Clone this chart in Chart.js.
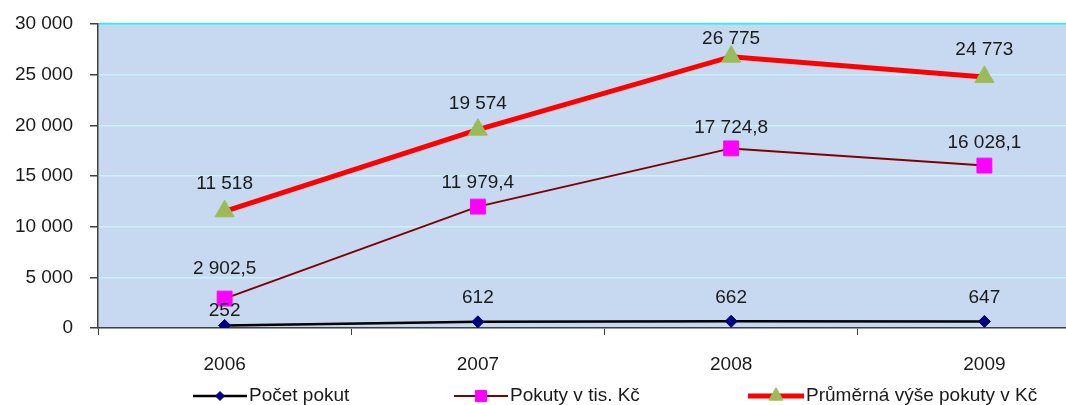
<!DOCTYPE html>
<html lang="cs">
<head>
<meta charset="UTF-8">
<title>Pokuty 2006–2009</title>
<script src="https://cdn.jsdelivr.net/npm/chart.js"></script>
<style>
    html, body { margin: 0; padding: 0; background: #fff; overflow: hidden; }
    #wrap { width: 1123px; height: 405px; }
</style>
</head>
<body>
<div id="wrap"><canvas id="chart" width="1123" height="405"></canvas></div>
<script>
    // --- data ---
    const years = ['2006', '2007', '2008', '2009'];
    const pocetPokut = [252, 612, 662, 647];
    const pokutyTisKc = [2902.5, 11979.4, 17724.8, 16028.1];
    const prumernaVyse = [11518, 19574, 26775, 24773];
    const seriesNames = ['Počet pokut', 'Pokuty v tis. Kč', 'Průměrná výše pokuty v Kč'];

    const FONT = '"Liberation Sans", Arial, sans-serif';

    // cz number format: space as thousands separator, comma for decimals
    function fmt(v, dec) {
        const s = v.toFixed(dec).split('.');
        const int = s[0].replace(/\B(?=(\d{3})+(?!\d))/g, ' ');
        return s[1] ? int + ',' + s[1] : int;
    }

    // plot area background
    const plotBg = {
        id: 'plotBg',
        beforeDraw(chart) {
            const { ctx, chartArea: a } = chart;
            ctx.save();
            ctx.fillStyle = '#c6d9f0';
            ctx.fillRect(a.left, a.top, a.right - a.left, a.bottom - a.top);
            ctx.restore();
        }
    };

    // value labels above points
    const valueLabels = {
        id: 'valueLabels',
        afterDatasetsDraw(chart, args, opts) {
            const ctx = chart.ctx;
            ctx.save();
            ctx.font = '19px ' + FONT;
            ctx.fillStyle = '#1a1a1a';
            ctx.textAlign = 'center';
            ctx.textBaseline = 'middle';
            chart.data.datasets.forEach((ds, i) => {
                const meta = chart.getDatasetMeta(i);
                meta.data.forEach((pt, j) => {
                    const off = opts.offsets[i][j];
                    ctx.fillText(fmt(ds.data[j], opts.decimals[i]), pt.x, pt.y - off);
                });
            });
            ctx.restore();
        }
    };

    // legend: line + marker + text, drawn at bottom
    const bottomLegend = {
        id: 'bottomLegend',
        afterDraw(chart, args, opts) {
            const ctx = chart.ctx;
            const y = 396;
            chart.data.datasets.forEach((ds, i) => {
                const x0 = opts.starts[i], x1 = x0 + opts.lineLen[i];
                ctx.save();
                ctx.strokeStyle = ds.borderColor;
                ctx.lineWidth = ds.borderWidth;
                ctx.beginPath();
                ctx.moveTo(x0, y);
                ctx.lineTo(x1, y);
                ctx.stroke();
                ctx.fillStyle = ds.pointBackgroundColor;
                ctx.strokeStyle = ds.pointBorderColor;
                ctx.lineWidth = 1;
                Chart.helpers.drawPoint(ctx, {
                    pointStyle: ds.pointStyle,
                    radius: ds.pointRadius * 0.75,
                    borderWidth: 1
                }, (x0 + x1) / 2, y);
                ctx.font = '19px ' + FONT;
                ctx.fillStyle = '#1a1a1a';
                ctx.textAlign = 'left';
                ctx.textBaseline = 'middle';
                ctx.fillText(seriesNames[i], x1 + 2, y);
                ctx.restore();
            });
        }
    };

    new Chart(document.getElementById('chart'), {
        type: 'line',
        data: {
            labels: years,
            datasets: [
                {
                    label: seriesNames[0], data: pocetPokut,
                    borderColor: '#000000', borderWidth: 2.5,
                    pointStyle: 'rectRot', pointRadius: 6,
                    pointBackgroundColor: '#000080', pointBorderColor: '#000080', pointBorderWidth: 1
                },
                {
                    label: seriesNames[1], data: pokutyTisKc,
                    borderColor: '#800000', borderWidth: 2,
                    pointStyle: 'rect', pointRadius: 10.5,
                    pointBackgroundColor: '#ff00ff', pointBorderColor: '#ff00ff', pointBorderWidth: 1
                },
                {
                    label: seriesNames[2], data: prumernaVyse,
                    borderColor: '#ff0000', borderWidth: 5,
                    pointStyle: 'triangle', pointRadius: 11,
                    pointBackgroundColor: '#9bbb59', pointBorderColor: '#9bbb59', pointBorderWidth: 1
                }
            ]
        },
        options: {
            responsive: false,
            animation: false,
            layout: { padding: { top: 24, left: 0, right: 0, bottom: 0 } },
            plugins: {
                legend: { display: false },
                tooltip: { enabled: false },
                valueLabels: {
                    decimals: [0, 1, 0],
                    offsets: [[15, 24, 24, 24], [30, 24, 21, 23], [28, 26, 18, 27]]
                },
                bottomLegend: { starts: [193, 454, 748], lineLen: [54, 54, 56] }
            },
            scales: {
                x: {
                    offset: true,
                    grid: { offset: true, drawOnChartArea: false, tickLength: 7, color: '#404040' },
                    border: { display: true, color: '#404040', width: 1.5 },
                    ticks: { padding: 18, color: '#1a1a1a', font: { size: 19, family: FONT } },
                    afterFit: s => { s.height = 77; s.paddingLeft = 0; s.paddingRight = 0; }
                },
                y: {
                    min: 0, max: 30000,
                    ticks: {
                        stepSize: 5000, padding: 17, color: '#1a1a1a',
                        font: { size: 19, family: FONT },
                        callback: v => fmt(v, 0)
                    },
                    grid: {
                        tickLength: 8,
                        lineWidth: 1.5,
                        color: ctx => ctx.tick && ctx.tick.value === 30000 ? '#00ffff' : '#ccf2fa',
                        tickColor: '#404040'
                    },
                    border: { display: true, color: '#404040', width: 1.5 },
                    afterFit: s => { s.width = 98; s.paddingTop = 0; s.paddingBottom = 0; }
                }
            }
        },
        plugins: [plotBg, valueLabels, bottomLegend]
    });
</script>
</body>
</html>
